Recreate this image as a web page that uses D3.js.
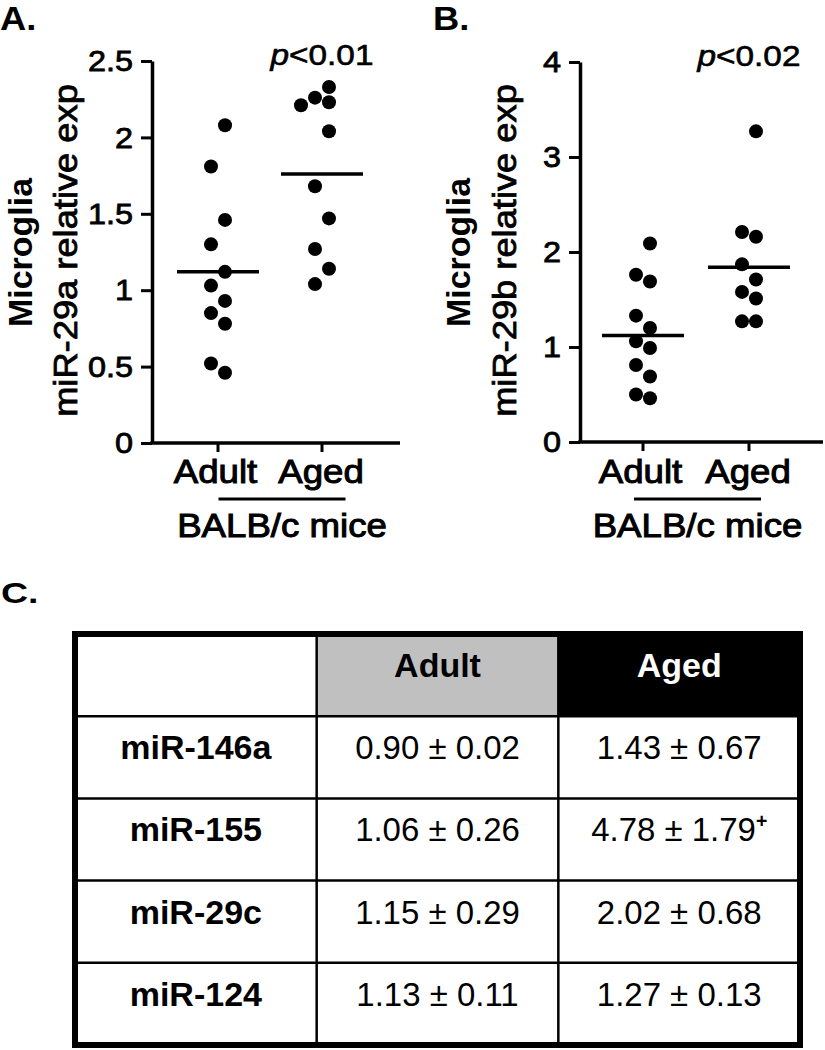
<!DOCTYPE html>
<html>
<head>
<meta charset="utf-8">
<script src="https://cdn.jsdelivr.net/npm/d3@7"></script>
<style>
  body { margin: 0; background: #fff; }
  svg { display: block; font-family: "Liberation Sans", Arial, Helvetica, sans-serif; }
</style>
</head>
<body>
<script>
// ---------------- DATA ----------------
const groups = ["Adult", "Aged"];
const groupLabel = "BALB/c mice";

// Panel A: miR-29a
const mir29aAdult = [2.08, 1.81, 1.46, 1.30, 1.12, 1.03, 0.93, 0.85, 0.78, 0.52, 0.46];
const mir29aAged  = [2.33, 2.26, 2.23, 2.21, 2.04, 1.68, 1.47, 1.27, 1.14, 1.04];
const mir29aMean  = [1.12, 1.76];
const mir29aTicks = [0, 0.5, 1, 1.5, 2, 2.5];
const mir29aTickLabels = ["0", "0.5", "1", "1.5", "2", "2.5"];
const mir29aP = "<0.01";

// Panel B: miR-29b
const mir29bAdult = [2.09, 1.76, 1.69, 1.33, 1.20, 1.06, 0.99, 0.81, 0.69, 0.50, 0.46];
const mir29bAged  = [3.27, 2.21, 2.16, 1.87, 1.71, 1.58, 1.51, 1.27, 1.27];
const mir29bMean  = [1.12, 1.84];
const mir29bTicks = [0, 1, 2, 3, 4];
const mir29bTickLabels = ["0", "1", "2", "3", "4"];
const mir29bP = "<0.02";

// Panel C: table
const tableCols = ["", "Adult", "Aged"];
const mirNames  = ["miR-146a", "miR-155", "miR-29c", "miR-124"];
const adultMean = [0.90, 1.06, 1.15, 1.13];
const adultSem  = [0.02, 0.26, 0.29, 0.11];
const agedMean  = [1.43, 4.78, 2.02, 1.27];
const agedSem   = [0.67, 1.79, 0.68, 0.13];
const agedMark  = ["", "+", "", ""];

// ---------------- DRAWING ----------------
const W = 825, H = 1050;
const svg = d3.select("body").append("svg").attr("width", W).attr("height", H);

function label(g, x, y, str, o = {}) {
  const t = g.append("text")
    .attr("transform", `translate(${x},${y}) rotate(${o.rotate || 0}) scale(${o.sx || 1},1)`)
    .attr("text-anchor", o.anchor || "middle")
    .attr("font-size", o.size || 30)
    .attr("font-weight", o.weight || "normal")
    .attr("fill", o.fill || "#000");
  if (o.heavy) t.attr("stroke", o.fill || "#000").attr("stroke-width", o.heavy);
  if (str !== null) t.text(str);
  return t;
}

function swarm(values, cx, y, r) {
  const pts = values.map(v => ({ v, cy: y(v) })).sort((a, b) => a.cy - b.cy);
  const placed = [];
  let side = 1;
  const minD = 2 * r - 1;
  pts.forEach(p => {
    const cands = [];
    for (let k = 1; k <= 8; k++) { cands.push(side * k * r); cands.push(-side * k * r); }
    let chosen = cands[0];
    for (const off of cands) {
      const ok = placed.every(q => Math.hypot(q.off - off, q.cy - p.cy) >= minD);
      if (ok) { chosen = off; break; }
    }
    p.off = chosen;
    p.cx = cx + chosen;
    placed.push(p);
    side = -side;
  });
  return pts;
}

function panel(cfg) {
  const g = svg.append("g");
  const y = d3.scaleLinear().domain([cfg.ticks[0], cfg.ticks[cfg.ticks.length - 1]]).range([cfg.y0, cfg.y1]);
  const x = d3.scalePoint().domain(groups).range(cfg.xr);

  // y axis
  const ax = g.append("g").attr("transform", `translate(${cfg.axisX},0)`)
    .call(d3.axisLeft(y).tickValues(cfg.ticks).tickFormat((d, i) => cfg.tickLabels[i])
      .tickSize(11).tickPadding(8).tickSizeOuter(0));
  ax.select(".domain").attr("stroke", "#000").attr("stroke-width", 3.5);
  ax.selectAll(".tick line").attr("stroke", "#000").attr("stroke-width", 3);
  ax.selectAll(".tick text").each(function () {
    const t = d3.select(this);
    const tx = +t.attr("x");
    t.attr("x", 0).attr("transform", `translate(${tx},0) scale(1.08,1)`)
      .attr("font-size", 30).attr("font-family", null).attr("fill", "#000")
      .attr("stroke", "#000").attr("stroke-width", 0.8);
  });

  // x axis
  g.append("line").attr("x1", cfg.axisX - 1.75).attr("x2", cfg.xEnd)
    .attr("y1", cfg.y0).attr("y2", cfg.y0).attr("stroke", "#000").attr("stroke-width", 3.5);
  groups.forEach(gr => {
    g.append("line").attr("x1", x(gr)).attr("x2", x(gr))
      .attr("y1", cfg.y0).attr("y2", cfg.y0 + 9).attr("stroke", "#000").attr("stroke-width", 3);
  });
  label(g, x("Adult") - 2.5, 483, "Adult", { size: 33, sx: 1.11, heavy: 1 });
  label(g, x("Aged") - 1, 483, "Aged", { size: 33, sx: 1.11, heavy: 1 });
  g.append("line").attr("x1", cfg.groupCx - 63.5).attr("x2", cfg.groupCx + 63.5)
    .attr("y1", 499).attr("y2", 499).attr("stroke", "#000").attr("stroke-width", 3);
  label(g, cfg.groupCx, 537, groupLabel, { size: 33, sx: 1.11, heavy: 1 });

  // y labels
  label(g, cfg.lab1X, 252.5, "Microglia", { size: 33, weight: "bold", rotate: -90, sx: 1.03 });
  label(g, cfg.lab2X, 250.5, cfg.yLabel, { size: 33, rotate: -90, sx: 1.1, heavy: 0.8 });

  // p value
  const pt = label(g, x("Aged"), cfg.pY, null, { size: 29, sx: 1.15, heavy: 0.6 });
  pt.append("tspan").attr("font-style", "italic").text("p");
  pt.append("tspan").text(cfg.p);

  // dots
  [cfg.adult, cfg.aged].forEach((vals, i) => {
    const pts = swarm(vals, x(groups[i]), y, 7);
    g.selectAll(null).data(pts).join("circle")
      .attr("cx", d => d.cx).attr("cy", d => d.cy).attr("r", 7).attr("fill", "#000");
  });
  // means
  cfg.mean.forEach((m, i) => {
    g.append("line").attr("x1", x(groups[i]) - 41).attr("x2", x(groups[i]) + 41)
      .attr("y1", y(m)).attr("y2", y(m)).attr("stroke", "#000").attr("stroke-width", 3.5);
  });
}

panel({ adult: mir29aAdult, aged: mir29aAged, mean: mir29aMean, ticks: mir29aTicks, tickLabels: mir29aTickLabels,
  p: mir29aP, yLabel: "miR-29a relative exp", axisX: 152, y0: 443, y1: 61, xr: [218, 322], xEnd: 400,
  groupCx: 282, lab1X: 32, lab2X: 77, pY: 65 });
panel({ adult: mir29bAdult, aged: mir29bAged, mean: mir29bMean, ticks: mir29bTicks, tickLabels: mir29bTickLabels,
  p: mir29bP, yLabel: "miR-29b relative exp", axisX: 580, y0: 442, y1: 62, xr: [643, 749], xEnd: 823,
  groupCx: 697.5, lab1X: 470, lab2X: 516, pY: 66 });

// panel letters
label(svg, 0, 30, "A.", { size: 33, weight: "bold", anchor: "start", sx: 1.1 });
label(svg, 433, 30, "B.", { size: 33, weight: "bold", anchor: "start", sx: 1.1 });
label(svg, 1, 603, "C.", { size: 30, weight: "bold", anchor: "start", sx: 1.25 });

// ---------------- TABLE ----------------
const tg = svg.append("g");
const xc = d3.scaleBand().domain(tableCols).range([75, 800]);
const yr = d3.scaleBand().domain(["header", ...mirNames]).range([634, 1045]);
const bw = xc.bandwidth(), bh = yr.bandwidth();

tg.append("rect").attr("x", xc("Adult")).attr("y", yr("header")).attr("width", bw).attr("height", bh).attr("fill", "#c0c0c0");
tg.append("rect").attr("x", xc("Aged")).attr("y", yr("header")).attr("width", bw).attr("height", bh).attr("fill", "#000");

["Adult", "Aged"].forEach(c => {
  tg.append("line").attr("x1", xc(c)).attr("x2", xc(c)).attr("y1", 634).attr("y2", 1045)
    .attr("stroke", "#000").attr("stroke-width", 2.5);
});
mirNames.forEach(r => {
  tg.append("line").attr("x1", 75).attr("x2", 800).attr("y1", yr(r)).attr("y2", yr(r))
    .attr("stroke", "#000").attr("stroke-width", 2.5);
});
tg.append("rect").attr("x", 75).attr("y", 634).attr("width", 725).attr("height", 411)
  .attr("fill", "none").attr("stroke", "#000").attr("stroke-width", 6);

label(tg, xc("Adult") + bw / 2, yr("header") + 43, "Adult", { size: 34, weight: "bold" });
label(tg, xc("Aged") + bw / 2, yr("header") + 43, "Aged", { size: 34, weight: "bold", fill: "#fff" });

mirNames.forEach((r, i) => {
  const by = yr(r) + 43;
  label(tg, xc("") + bw / 2, by, r, { size: 34, weight: "bold" });
  label(tg, xc("Adult") + bw / 2, by, `${adultMean[i].toFixed(2)} ± ${adultSem[i].toFixed(2)}`, { size: 34, sx: 0.97 });
  const t = label(tg, xc("Aged") + bw / 2, by, null, { size: 34, sx: 0.97 });
  t.append("tspan").text(`${agedMean[i].toFixed(2)} ± ${agedSem[i].toFixed(2)}`);
  if (agedMark[i]) t.append("tspan").attr("font-size", 20).attr("font-weight", "bold").attr("dy", -13).text(agedMark[i]);
});
</script>
</body>
</html>
